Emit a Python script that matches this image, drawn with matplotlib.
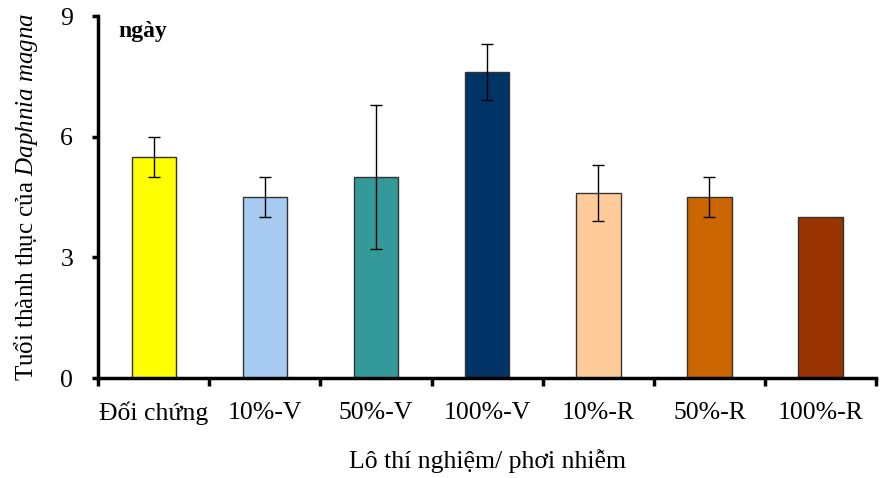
import matplotlib
matplotlib.use("Agg")
import matplotlib.pyplot as plt
import numpy as np

categories = ["Đối chứng", "10%-V", "50%-V", "100%-V", "10%-R", "50%-R", "100%-R"]
values = [5.5, 4.5, 5.0, 7.6, 4.6, 4.5, 4.0]
errors = [0.5, 0.5, 1.8, 0.7, 0.7, 0.5, 0.0]
colors = ["#FFFF00", "#A6CAF0", "#339999", "#003366", "#FFCC99", "#CC6600", "#993300"]
yticks = [0, 3, 6, 9]

plt.rcParams['font.family'] = ['Liberation Serif', 'DejaVu Serif']
plt.rcParams['mathtext.fontset'] = 'custom'
plt.rcParams['mathtext.rm'] = 'Liberation Serif'
plt.rcParams['mathtext.it'] = 'Liberation Serif:italic'

fig = plt.figure(figsize=(8.85, 4.78), dpi=100)
ax = fig.add_axes([0.111, 0.209, 0.879, 0.7575])

x = np.arange(len(categories))
ax.bar(x, values, width=0.4, color=colors, edgecolor="#333333", linewidth=1.0, zorder=2)
for xi, v, e in zip(x, values, errors):
    if e > 0:
        ax.errorbar(xi, v, yerr=e, fmt='none', ecolor='black', elinewidth=1.0,
                    capsize=4, capthick=1.0, zorder=3)

ax.set_xlim(-0.5, len(categories) - 0.5)
ax.set_ylim(0, 9)
ax.set_yticks(yticks)
ax.set_yticklabels([str(t) for t in yticks], fontsize=18.5)
ax.set_xticks(np.arange(len(categories) + 1) - 0.5)
ax.set_xticklabels([])
ax.set_xticks(x, minor=True)
ax.set_xticklabels(categories, minor=True, fontsize=18.5)
ax.tick_params(axis='x', which='major', direction='out', length=6, width=2.5)
ax.tick_params(axis='x', which='minor', length=0, pad=17)
ax.tick_params(axis='y', direction='out', length=4, width=2.5, pad=14)

for s in ['top', 'right']:
    ax.spines[s].set_visible(False)
for s in ['left', 'bottom']:
    ax.spines[s].set_linewidth(2.5)

ax.set_ylabel(r'Tuổi thành thục của $\it{Daphnia\ magna}$', fontsize=18, labelpad=15)
ax.set_xlabel('Lô thí nghiệm/ phơi nhiễm', fontsize=18.5, labelpad=17)
ax.text(0.026, 0.985, 'ngày', transform=ax.transAxes, fontsize=17, fontweight='bold',
        va='top', ha='left')

fig.savefig("out.png", dpi=100)
